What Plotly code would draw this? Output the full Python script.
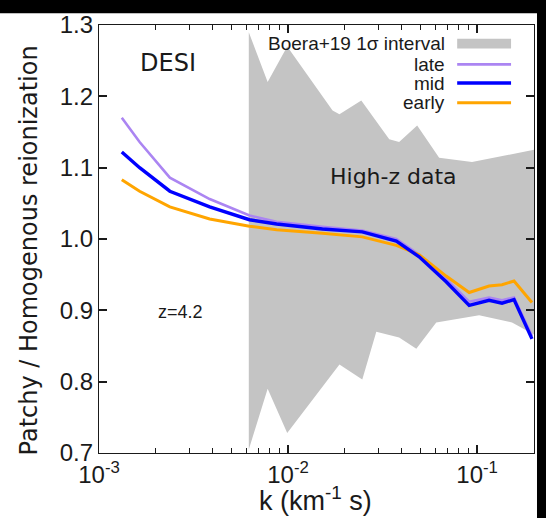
import plotly.graph_objects as go

# ---------------- data ----------------
k = [0.00132, 0.00164, 0.00237, 0.00385, 0.00625, 0.0087, 0.0152, 0.0247,
     0.0374, 0.0494, 0.0686, 0.0908, 0.1157, 0.1355, 0.1568, 0.1951]
late = [1.170, 1.136, 1.086, 1.056, 1.033, 1.024, 1.017, 1.012,
        1.000, 0.978, 0.944, 0.912, 0.918, 0.914, 0.918, 0.864]
mid = [1.122, 1.100, 1.067, 1.045, 1.027, 1.021, 1.014, 1.010,
       0.997, 0.975, 0.940, 0.907, 0.914, 0.910, 0.915, 0.860]
early = [1.083, 1.067, 1.045, 1.028, 1.018, 1.013, 1.008, 1.003,
         0.991, 0.978, 0.948, 0.925, 0.934, 0.936, 0.941, 0.911]

band_k_upper = [0.0062, 0.0078, 0.0099, 0.0172, 0.0187, 0.0244, 0.0343,
                0.0387, 0.0482, 0.0630, 0.094, 0.2]
band_upper = [1.29, 1.22, 1.27, 1.18, 1.175, 1.194, 1.14,
              1.136, 1.159, 1.114, 1.108, 1.125]
band_k_lower = [0.0062, 0.0078, 0.0099, 0.0187, 0.0247, 0.0293, 0.0387,
                0.0477, 0.0608, 0.1025, 0.153, 0.2]
band_lower = [0.705, 0.790, 0.728, 0.824, 0.803, 0.870, 0.862,
              0.846, 0.883, 0.893, 0.883, 0.866]

series_names = ["late", "mid", "early"]
band_name = "Boera+19 1σ interval"
y_ticks = [0.7, 0.8, 0.9, 1.0, 1.1, 1.2, 1.3]
x_ticks = [1e-3, 1e-2, 1e-1]
x_ticktext = ["10<sup>-3</sup>", "10<sup>-2</sup>", "10<sup>-1</sup>"]
x_minor = [m * d for d in (1e-3, 1e-2, 1e-1) for m in range(2, 10) if m * d <= 0.2]

# ---------------- style ----------------
colors = {"late": "#ab85f2", "mid": "#0000ff", "early": "#ffa500"}
widths = {"late": 2.6, "mid": 3.4, "early": 3.0}
band_color = "#c4c4c4"
ink = "#1a1a1a"
sans = "Liberation Sans"
latex = "DejaVu Sans"

fig = go.Figure()
fig.add_trace(go.Scatter(
    x=band_k_upper + band_k_lower[::-1],
    y=band_upper + band_lower[::-1],
    fill="toself", fillcolor=band_color, line=dict(width=0),
    mode="lines", name=band_name, showlegend=False, hoverinfo="skip"))

series = {"late": late, "mid": mid, "early": early}
for nm in ["late", "early", "mid"]:
    fig.add_trace(go.Scatter(x=k, y=series[nm], mode="lines", name=nm,
                             line=dict(color=colors[nm], width=widths[nm]),
                             showlegend=False))

W, H = 546, 518
L, R, T, B = 99, 11, 18, 65
pw, ph = W - L - R, H - T - B


def px(x):
    return (x - L) / pw


def py(y):
    return (H - B - y) / ph


axis_common = dict(showline=True, linecolor=ink, linewidth=1.4, mirror="ticks",
                   ticks="inside", ticklen=8, tickwidth=1.6, tickcolor=ink,
                   showgrid=False, zeroline=False, layer="above traces",
                   tickfont=dict(family=sans, size=24, color=ink))

xrange_log = [-3, -0.69897]
fig.update_layout(
    xaxis=dict(type="log", range=xrange_log, tickmode="array",
               tickvals=x_ticks, ticktext=x_ticktext, **axis_common),
    xaxis2=dict(type="log", range=xrange_log, overlaying="x", anchor="y",
                side="bottom", tickmode="array", tickvals=x_minor,
                showticklabels=False, ticks="inside", ticklen=5,
                tickwidth=1.3, tickcolor=ink, mirror="ticks", showline=True,
                linecolor=ink, linewidth=1.4, showgrid=False, zeroline=False,
                layer="above traces"),
    yaxis=dict(range=[0.7, 1.3], tickmode="array", tickvals=y_ticks,
               ticktext=[f"{v:.1f}" for v in y_ticks], **axis_common),
)
# invisible trace to activate the minor-tick axis
fig.add_trace(go.Scatter(x=[k[0]], y=[mid[0]], xaxis="x2", yaxis="y", mode="markers",
                         marker=dict(opacity=0), showlegend=False, hoverinfo="skip"))

annotations = [
    dict(text="Patchy / Homogenous reionization", x=px(29), y=py(247),
         textangle=-90, font=dict(family=latex, size=24, color=ink)),
    dict(text="k (km<sup>-1</sup> s)", x=px(316), y=py(500),
         font=dict(family=sans, size=27, color=ink)),
    dict(text="DESI", x=px(168), y=py(57), font=dict(family=latex, size=24, color=ink)),
    dict(text="High-z data", x=px(394), y=py(172), font=dict(family=latex, size=22, color=ink)),
    dict(text="z=4.2", x=px(181), y=py(310), font=dict(family=sans, size=18, color=ink)),
]
for a in annotations:
    a.update(xref="paper", yref="paper", showarrow=False, xanchor="center", yanchor="middle")

shapes = []
# manual legend (text right, swatch on the right side)
leg_rows = [band_name] + series_names
leg_y = [37, 58, 77, 97]
for name, yy in zip(leg_rows, leg_y):
    annotations.append(dict(text=name, x=px(448), y=py(yy), xref="paper", yref="paper",
                            xanchor="right", yanchor="middle", showarrow=False,
                            font=dict(family=sans, size=19, color=ink)))
    if name == band_name:
        shapes.append(dict(type="rect", xref="paper", yref="paper",
                           x0=px(458), x1=px(512), y0=py(42), y1=py(32),
                           fillcolor=band_color, line=dict(width=0)))
    else:
        shapes.append(dict(type="line", xref="paper", yref="paper",
                           x0=px(458), x1=px(512), y0=py(yy), y1=py(yy),
                           line=dict(color=colors[name], width=widths[name])))

# black frame strips (top and right)
shapes.append(dict(type="rect", xref="paper", yref="paper", x0=-0.5, x1=1.5,
                   y0=py(6), y1=py(-20), fillcolor="black", line=dict(width=0), layer="above"))
shapes.append(dict(type="rect", xref="paper", yref="paper", x0=px(538), x1=px(560),
                   y0=py(540), y1=py(-20), fillcolor="black", line=dict(width=0), layer="above"))

fig.update_layout(width=W, height=H, margin=dict(l=L, r=R, t=T, b=B),
                  paper_bgcolor="white", plot_bgcolor="white",
                  showlegend=False, annotations=annotations, shapes=shapes)

fig.write_html("out.html")
